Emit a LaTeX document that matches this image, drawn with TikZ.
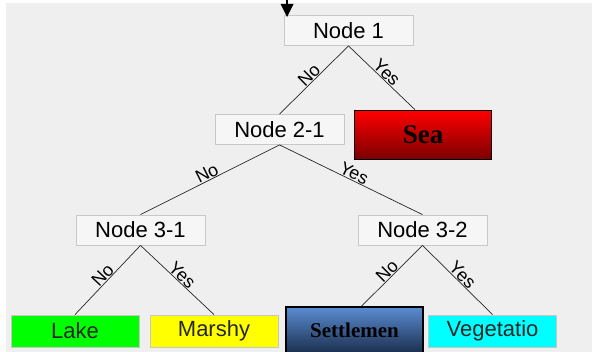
\documentclass[tikz,border=0pt]{standalone}
\usepackage{fontspec}
\setmainfont{Liberation Serif}
\setsansfont{Liberation Sans}
\definecolor{panel}{HTML}{EFEFEF}
\definecolor{boxfill}{HTML}{F6F6F6}
\definecolor{boxedge}{HTML}{C8C8C8}
\definecolor{seatop}{HTML}{FF0000}
\definecolor{seabot}{HTML}{7A0000}
\definecolor{settop}{HTML}{5A8CD2}
\definecolor{setbot}{HTML}{1B2F4E}
\definecolor{lakegreen}{HTML}{00FF00}
\definecolor{marshyellow}{HTML}{FFFF00}
\definecolor{vegcyan}{HTML}{00FFFF}
\tikzset{
  x=1pt, y=-1pt,
  test/.style={draw=boxedge, fill=boxfill, line width=0.8pt, inner sep=0pt,
    minimum width=129pt, minimum height=30pt,
    font=\sffamily\fontsize{22}{22}\selectfont},
  leaf/.style={draw=black!22, line width=0.8pt, inner sep=0pt,
    minimum width=128pt, minimum height=32pt,
    font=\sffamily\fontsize{22}{22}\selectfont, text=black!85},
  bigleaf/.style={draw=black, line width=1.6pt, inner sep=0pt,
    font=\rmfamily\bfseries},
  branch/.style={draw=black!85, line width=0.7pt},
  lbl/.style={sloped, above, inner sep=0.5pt,
    font=\sffamily\fontsize{18}{18}\selectfont},
}
\begin{document}
\begin{tikzpicture}
\useasboundingbox (0,0) rectangle (592,352);
\fill[panel] (6,3) rectangle (592,352);

% decision nodes
\node[test] (n1)  at (348.5,30.5) {Node 1};
\node[test] (n21) at (279.5,129.5) {Node 2-1};
\node[test] (n31) at (140.5,230) {Node 3-1};
\node[test] (n32) at (422.5,230) {Node 3-2};

% leaves
\node[bigleaf, top color=seatop, bottom color=seabot,
      minimum width=137pt, minimum height=49pt,
      font=\rmfamily\bfseries\fontsize{27}{27}\selectfont] (sea) at (423,135) {Sea};
\node[leaf, fill=lakegreen] (lake) at (75,331) {Lake};
\node[leaf, fill=marshyellow] (marshy) at (214,331) {Marshy};
\node[bigleaf, top color=settop, bottom color=setbot,
      minimum width=137pt, minimum height=46pt,
      font=\rmfamily\bfseries\fontsize{21}{21}\selectfont] (settle) at (354.5,330) {Settlemen};
\node[leaf, fill=vegcyan] (veg) at (492.5,331) {Vegetatio};

% entry arrow
\coordinate (entry) at (287,-1);
\coordinate (entrytip) at (287,17);
\draw[line width=1.5pt] (entry) -- (287,6);
\fill (entrytip) -- (280.5,4) -- (293.5,4) -- cycle;

% branches
\draw[branch] (n1.south) -- node[lbl] {No} (n21.north);
\draw[branch] (n1.south) -- node[lbl] {Yes} ([xshift=-8pt]sea.north);
\draw[branch] (n21.south) -- node[lbl] {No} (n31.north);
\draw[branch] (n21.south) -- node[lbl] {Yes} (n32.north);
\draw[branch] (n31.south) -- node[lbl] {No} (lake.north);
\draw[branch] (n31.south) -- node[lbl] {Yes} (marshy.north);
\draw[branch] (n32.south) -- node[lbl] {No} ([xshift=7pt]settle.north);
\draw[branch] (n32.south) -- node[lbl] {Yes} (veg.north);
\end{tikzpicture}
\end{document}
